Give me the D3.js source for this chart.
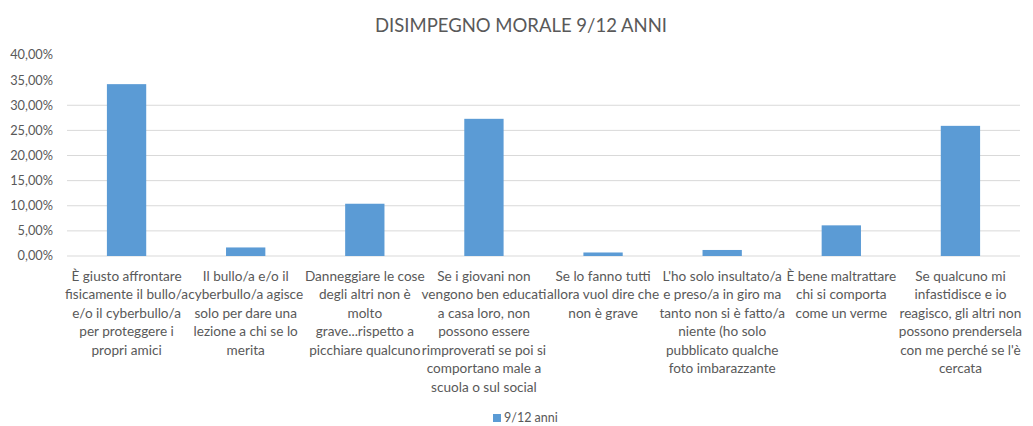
<!DOCTYPE html>
<html>
<head>
<meta charset="utf-8">
<script src="https://cdn.jsdelivr.net/npm/d3@7"></script>
<style>
  body { margin: 0; background: #fff; }
  text { font-family: Lato, "Open Sans", sans-serif; }
</style>
</head>
<body>
<svg id="chart" width="1033" height="426"></svg>
<script>
// categories (label lines as wrapped in the original)
const categories = [
  ["È giusto affrontare", "fisicamente il bullo/a", "e/o il cyberbullo/a", "per proteggere i", "propri amici"],
  ["Il bullo/a e/o il", "cyberbullo/a agisce", "solo per dare una", "lezione a chi se lo", "merita"],
  ["Danneggiare le cose", "degli altri non è", "molto", "grave...rispetto a", "picchiare qualcuno"],
  ["Se i giovani non", "vengono ben educati", "a casa loro, non", "possono essere", "rimproverati se poi si", "comportano male a", "scuola o sul social"],
  ["Se lo fanno tutti", "allora vuol dire che", "non è grave"],
  ["L'ho solo insultato/a", "e preso/a in giro ma", "tanto non si è fatto/a", "niente (ho solo", "pubblicato qualche", "foto imbarazzante"],
  ["È bene maltrattare", "chi si comporta", "come un verme"],
  ["Se qualcuno mi", "infastidisce e io", "reagisco, gli altri non", "possono prendersela", "con me perché se l'è", "cercata"]
];
const values = [34.2, 1.7, 10.4, 27.3, 0.7, 1.2, 6.1, 25.9];
const yTicks = [0, 5, 10, 15, 20, 25, 30, 35, 40];
const seriesName = "9/12 anni";

const svg = d3.select("#chart");
const margin = { top: 55, right: 13, bottom: 170, left: 67 };
const width = 1033, height = 426;

const x = d3.scaleBand()
  .domain(d3.range(categories.length))
  .range([margin.left, width - margin.right])
  .paddingInner(0.67)
  .paddingOuter(0.335);

const y = d3.scaleLinear()
  .domain([0, 40])
  .range([height - margin.bottom, margin.top]);

const barColor = "#5b9bd5";
const textColor = "#595959";

// title
svg.append("text")
  .attr("x", 521)
  .attr("y", 32)
  .attr("text-anchor", "middle")
  .attr("font-size", "18.5px")
  .attr("fill", textColor)
  .text("DISIMPEGNO MORALE 9/12 ANNI");

// gridlines (top two are not visible in the original)
svg.selectAll(".grid")
  .data(yTicks.filter((d) => d <= 30))
  .enter()
  .append("line")
  .attr("x1", margin.left)
  .attr("x2", width - margin.right)
  .attr("y1", (d) => y(d))
  .attr("y2", (d) => y(d))
  .attr("stroke", "#d9d9d9")
  .attr("stroke-width", 1);

// y tick labels
svg.selectAll(".ytick")
  .data(yTicks)
  .enter()
  .append("text")
  .attr("x", 53)
  .attr("y", (d) => y(d))
  .attr("dy", "0.35em")
  .attr("text-anchor", "end")
  .attr("font-size", "12.8px")
  .attr("fill", textColor)
  .text((d) => d.toFixed(2).replace(".", ",") + "%");

// bars
svg.selectAll("rect.bar")
  .data(values)
  .enter()
  .append("rect")
  .attr("class", "bar")
  .attr("x", (d, i) => x(i))
  .attr("y", (d) => y(d))
  .attr("width", x.bandwidth())
  .attr("height", (d) => y(0) - y(d))
  .attr("fill", barColor);

// category labels
const labels = svg.selectAll(".cat")
  .data(categories)
  .enter()
  .append("text")
  .attr("class", "cat")
  .attr("text-anchor", "middle")
  .attr("font-size", "13.6px")
  .attr("fill", textColor)
  .attr("transform", (d, i) => `translate(${x(i) + x.bandwidth() / 2}, ${y(0) + 20})`);

labels.selectAll("tspan")
  .data((d) => d)
  .enter()
  .append("tspan")
  .attr("x", 0)
  .attr("y", (d, i) => i * 18.5)
  .attr("dy", "0.35em")
  .text((d) => d);

// legend
const legend = svg.append("g").attr("transform", "translate(493, 418)");
legend.append("rect")
  .attr("x", 0)
  .attr("y", -4)
  .attr("width", 8)
  .attr("height", 8)
  .attr("fill", barColor);
legend.append("text")
  .attr("x", 11)
  .attr("y", 0)
  .attr("dy", "0.35em")
  .attr("font-size", "12.5px")
  .attr("fill", textColor)
  .text(seriesName);
</script>
</body>
</html>
